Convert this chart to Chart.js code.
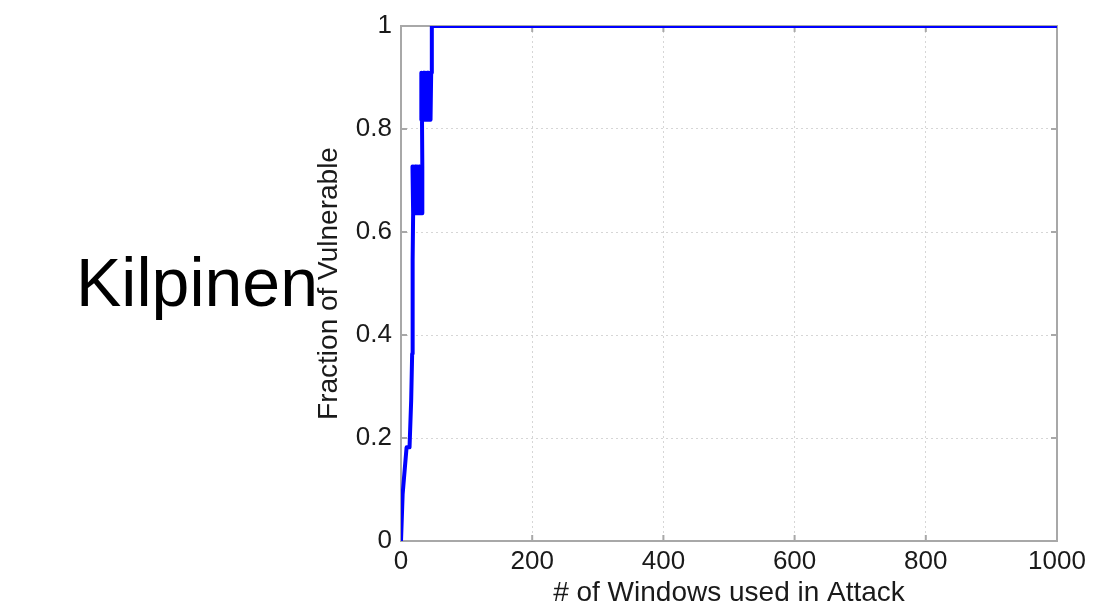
<!DOCTYPE html>
<html>
<head>
<meta charset="utf-8">
<script src="https://cdn.jsdelivr.net/npm/chart.js@4/dist/chart.umd.min.js"></script>
<style>
  body { margin: 0; background: #fff; }
  #wrap { position: relative; width: 1095px; height: 606px; }
  #label {
    position: absolute; left: 76px; top: 248px;
    font-family: "Liberation Sans", Arial, sans-serif;
    font-size: 68px; line-height: 68px; color: #000;
  }
</style>
</head>
<body>
<div id="wrap">
  <canvas id="myChart" width="1095" height="606"></canvas>
  <div id="label">Kilpinen</div>
</div>
<script>
// number of windows used in attack vs. fraction of vulnerable (steps of 1/11)
const windows = [
  0, 2.5, 8.5, 13, 15.5, 17, 17.5, 18, 18.5,
  17.5, 18.5, 19.5, 20.5, 21.5, 22.5, 23.5, 24.5, 25.5, 26.5, 27.5, 28.5, 29.5, 30.5, 31.5, 32.5,
  32.5, 32,
  31, 33, 34, 35, 36, 37, 38, 39, 40, 41, 42, 43, 44, 45, 46,
  47, 1000
]
const fraction = [
  0, 0.0909, 0.1818, 0.1818, 0.2727, 0.3636, 0.4545, 0.5455, 0.6364,
  0.7273, 0.6364, 0.7273, 0.6364, 0.7273, 0.6364, 0.7273, 0.6364, 0.7273, 0.6364, 0.7273, 0.6364, 0.7273, 0.6364, 0.7273, 0.6364,
  0.7273, 0.8182,
  0.9091, 0.8182, 0.9091, 0.8182, 0.9091, 0.8182, 0.9091, 0.8182, 0.9091, 0.8182, 0.9091, 0.8182, 0.9091, 0.8182, 0.9091,
  1, 1
]
const xTicks = [0, 200, 400, 600, 800, 1000]
const yTicks = [0, 0.2, 0.4, 0.6, 0.8, 1]

const points = windows.map((w, i) => ({ x: w, y: fraction[i] }))

const font = 'Liberation Sans'
const boxColor = '#a8a8a8'

// axes box with inward tick marks, like the matlab figure
const boxPlugin = {
  id: 'box',
  beforeDatasetsDraw(chart) {
    const { ctx, chartArea: a, scales } = chart
    ctx.save()
    ctx.strokeStyle = boxColor
    ctx.lineWidth = 2
    ctx.strokeRect(a.left, a.top, a.right - a.left, a.bottom - a.top)
    ctx.beginPath()
    xTicks.forEach(t => {
      const x = scales.x.getPixelForValue(t)
      ctx.moveTo(x, a.bottom); ctx.lineTo(x, a.bottom - 6)
      ctx.moveTo(x, a.top); ctx.lineTo(x, a.top + 6)
    })
    yTicks.forEach(t => {
      const y = scales.y.getPixelForValue(t)
      ctx.moveTo(a.left, y); ctx.lineTo(a.left + 6, y)
      ctx.moveTo(a.right, y); ctx.lineTo(a.right - 6, y)
    })
    ctx.stroke()
    ctx.restore()
  }
}

const ctx = document.getElementById('myChart').getContext('2d')
const myChart = new Chart(ctx, {
  type: 'line',
  data: {
    datasets: [{
      data: points,
      borderColor: '#0000ff',
      borderWidth: 4,
      borderJoinStyle: 'round',
      pointRadius: 0,
      tension: 0,
      clip: 0
    }]
  },
  plugins: [boxPlugin],
  options: {
    responsive: false,
    animation: false,
    layout: { padding: { top: 26, right: 38, left: 0, bottom: 0 } },
    plugins: { legend: { display: false }, tooltip: { enabled: false } },
    scales: {
      x: {
        type: 'linear',
        min: 0, max: 1000,
        afterBuildTicks: s => { s.ticks = xTicks.map(v => ({ value: v })) },
        afterFit: s => { s.height = 65 },
        grid: { color: '#d6d6d6', lineWidth: 1, drawTicks: false },
        border: { display: false, dash: [2, 3] },
        ticks: { color: '#1a1a1a', font: { family: font, size: 26 }, padding: 5, maxRotation: 0, callback: v => String(v) },
        title: {
          display: true, text: '# of Windows used in Attack', color: '#1a1a1a',
          font: { family: font, size: 28, lineHeight: 1 }, padding: { top: 0, bottom: -1 }
        }
      },
      y: {
        min: 0, max: 1,
        afterBuildTicks: s => { s.ticks = yTicks.map(v => ({ value: v })) },
        afterFit: s => { s.width = 401 },
        grid: { color: '#d6d6d6', lineWidth: 1, drawTicks: false },
        border: { display: false, dash: [2, 3] },
        ticks: { color: '#1a1a1a', font: { family: font, size: 26 }, padding: 9, callback: v => String(v) },
        title: {
          display: true, text: 'Fraction of Vulnerable', color: '#1a1a1a',
          font: { family: font, size: 28, lineHeight: 1 }, padding: { top: 315, bottom: 0 }
        }
      }
    }
  }
})
</script>
</body>
</html>
